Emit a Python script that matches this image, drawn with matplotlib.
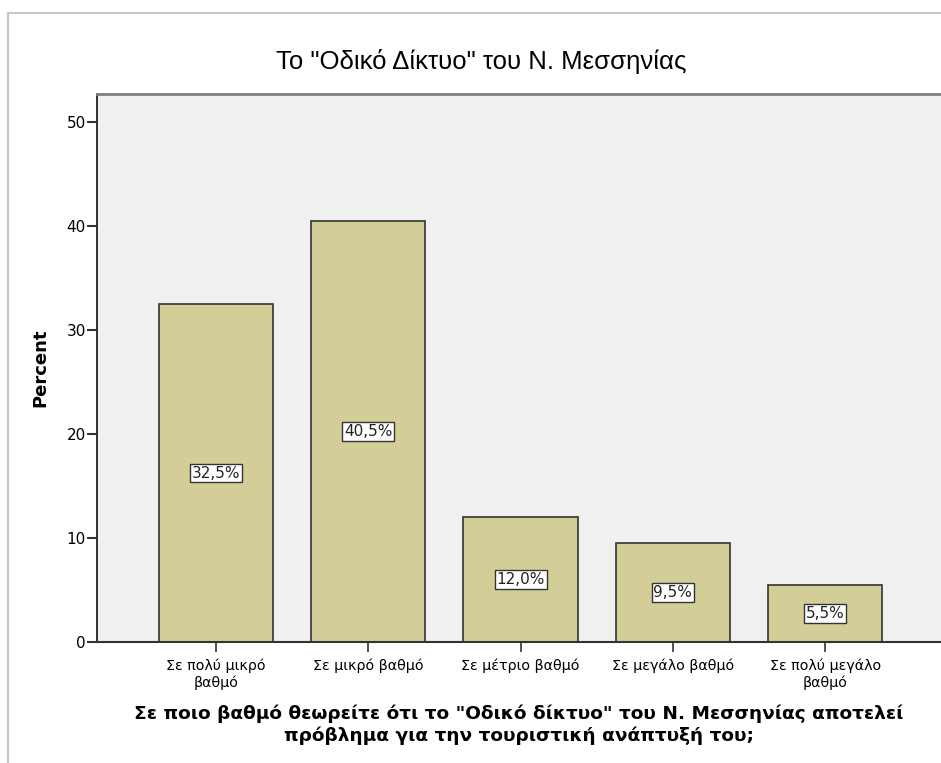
import matplotlib
matplotlib.use("Agg")
import matplotlib.pyplot as plt
from matplotlib.lines import Line2D

categories = ["Σε πολύ μικρό\nβαθμό", "Σε μικρό βαθμό", "Σε μέτριο βαθμό",
              "Σε μεγάλο βαθμό", "Σε πολύ μεγάλο\nβαθμό"]
percent = [32.5, 40.5, 12.0, 9.5, 5.5]
yticks = [0, 10, 20, 30, 40, 50]

plt.rcParams['font.family'] = ['DejaVu Sans']

fig = plt.figure(figsize=(9.41, 7.63), dpi=100)
ax = fig.add_axes([97 / 941, 121 / 763, 1 - 97 / 941, (642 - 94) / 763])
ax.set_facecolor('#f0f0f0')

x = list(range(len(categories)))
bars = ax.bar(x, percent, width=0.75, color='#d3ce97', edgecolor='#333333', linewidth=1.2, zorder=2)

# value boxes in the middle of each bar
for b, v in zip(bars, percent):
    ax.text(b.get_x() + b.get_width() / 2, v / 2, f"{v:.1f}%".replace('.', ','),
            ha='center', va='center', fontsize=11, color='#222222', zorder=3,
            bbox=dict(boxstyle='square,pad=0.12', facecolor='white', edgecolor='#333333', linewidth=1))

ax.set_xlim(-0.78, 4.76)
ax.set_ylim(0, 52.7)
ax.set_yticks(yticks)
ax.set_xticks(x)
ax.set_xticklabels(categories, fontsize=10.3, linespacing=1.2)
ax.tick_params(axis='y', length=7, width=1.5, labelsize=11, pad=1, color='#333333')
ax.tick_params(axis='x', length=7, width=1.2, pad=5, color='#333333')

ax.spines['right'].set_visible(False)
ax.spines['top'].set_color('#808080')
ax.spines['top'].set_linewidth(2)
ax.spines['left'].set_color('#222222')
ax.spines['left'].set_linewidth(1.3)
ax.spines['bottom'].set_color('#333333')
ax.spines['bottom'].set_linewidth(1.5)

ax.set_ylabel('Percent', fontsize=13, fontweight='bold', labelpad=12)
ax.set_xlabel('Σε ποιο βαθμό θεωρείτε ότι το "Οδικό δίκτυο" του Ν. Μεσσηνίας αποτελεί\n'
              'πρόβλημα για την τουριστική ανάπτυξή του;',
              fontsize=13.3, fontweight='bold', labelpad=10.5, linespacing=1.25)

fig.text(481 / 941, 1 - 61 / 763, 'Το "Οδικό Δίκτυο" του Ν. Μεσσηνίας',
         ha='center', va='center', fontsize=18.5, fontweight='medium',
         family=['Liberation Sans Narrow', 'Liberation Sans'])

# outer frame lines
fig.add_artist(Line2D([8 / 941, 8 / 941], [0, 1 - 13 / 763], transform=fig.transFigure,
                      color='#c8c8c8', linewidth=1.5))
fig.add_artist(Line2D([8 / 941, 1], [1 - 13 / 763, 1 - 13 / 763], transform=fig.transFigure,
                      color='#c8c8c8', linewidth=1.5))

fig.savefig('out.png', dpi=100)
